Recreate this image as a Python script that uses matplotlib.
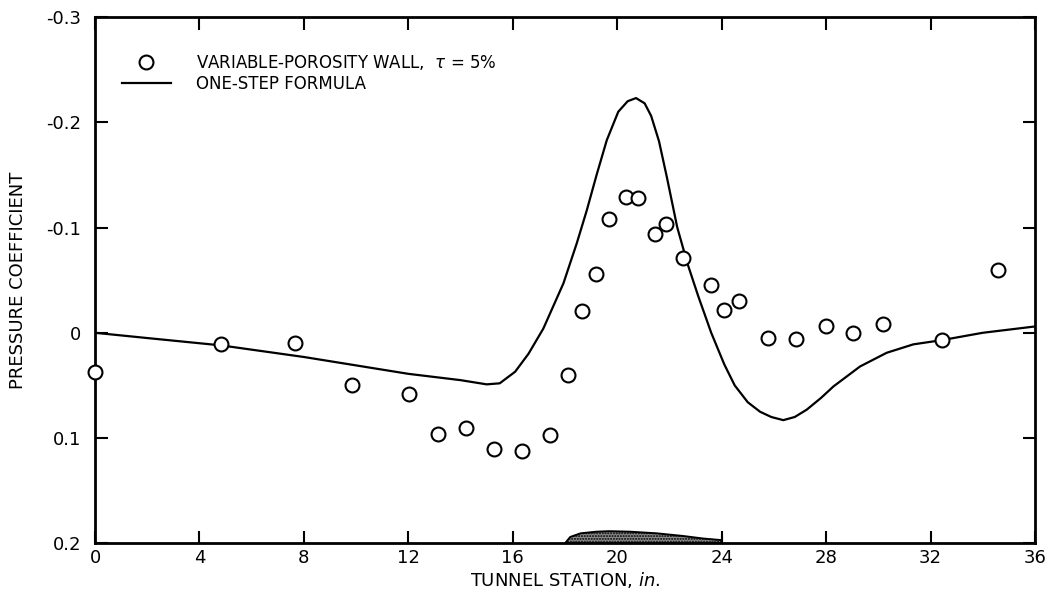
import matplotlib
matplotlib.use("Agg")
import matplotlib.pyplot as plt

# Measured data: variable-porosity wall, tau = 5%
station_in = [0.0, 4.84, 7.65, 9.84, 12.03, 13.12, 14.21, 15.27, 16.36, 17.43,
              18.12, 18.66, 19.2, 19.69, 20.33, 20.78, 21.43, 21.87, 22.52,
              23.59, 24.1, 24.67, 25.76, 26.86, 28.0, 29.04, 30.19, 32.43, 34.6]
cp_measured = [0.037, 0.011, 0.0095, 0.050, 0.058, 0.096, 0.090, 0.110, 0.112, 0.097,
               0.040, -0.021, -0.056, -0.108, -0.129, -0.128, -0.094, -0.103, -0.071,
               -0.045, -0.022, -0.030, 0.005, 0.0055, -0.006, 0.0, -0.008, 0.0065, -0.060]

# One-step formula curve
formula_x = [0.0, 2.0, 4.84, 8.0, 10.0, 12.0, 14.0, 15.0, 15.5, 16.09, 16.6, 17.17,
             17.94, 18.45, 18.83, 19.21, 19.6, 20.04, 20.4, 20.72, 21.05, 21.3,
             21.6, 21.9, 22.3, 22.7, 23.1, 23.6, 24.1, 24.5, 25.0, 25.47,
             25.9, 26.36, 26.8, 27.26, 27.8, 28.28, 29.3, 30.32, 31.34, 32.43,
             34.0, 36.0]
formula_cp = [0.0, 0.005, 0.012, 0.023, 0.031, 0.039, 0.045, 0.049, 0.048, 0.037, 0.020,
              -0.004, -0.047, -0.085, -0.116, -0.150, -0.183, -0.210, -0.220, -0.223,
              -0.218, -0.206, -0.182, -0.148, -0.100, -0.065, -0.035, 0.0,
              0.030, 0.050, 0.066, 0.075, 0.080, 0.083, 0.080, 0.073, 0.062, 0.051,
              0.032, 0.019, 0.011, 0.007, 0.0, -0.006]

# Model (airfoil) outline at the tunnel floor
airfoil_x = [18.0, 18.2, 18.6, 19.2, 19.7, 20.5, 21.5, 22.5, 23.3, 24.0]
airfoil_top = [0.2, 0.194, 0.1905, 0.189, 0.1885, 0.189, 0.1905, 0.193, 0.1955, 0.197]

y_ticks = [-0.3, -0.2, -0.1, 0.0, 0.1, 0.2]
y_ticklabels = ["-0.3", "-0.2", "-0.1", "0", "0.1", "0.2"]
x_ticks = [0, 4, 8, 12, 16, 20, 24, 28, 32, 36]

plt.rcParams['font.family'] = ['DejaVu Sans']

fig = plt.figure(figsize=(10.5, 5.95), dpi=100)
ax = fig.add_axes([0.0905, 0.0869, 0.8952, 0.8845])

ax.plot(formula_x, formula_cp, color='black', lw=1.6, zorder=2,
        label='ONE-STEP FORMULA')
ax.plot(station_in, cp_measured, linestyle='none', marker='o', markersize=10,
        markerfacecolor='white', markeredgecolor='black', markeredgewidth=1.5,
        zorder=3, clip_on=False, label='VARIABLE-POROSITY WALL,  $\\tau$ = 5%')

ax.fill_between(airfoil_x, airfoil_top, 0.2, facecolor='#8c8c8c',
                edgecolor='black', hatch='......', lw=1.4, zorder=2)
ax.plot([24, 24], [0.2, 0.194], color='black', lw=1.5)

ax.set_xlim(0, 36)
ax.set_ylim(0.2, -0.3)
ax.set_xticks(x_ticks)
ax.set_xticklabels([str(v) for v in x_ticks], fontsize=13)
ax.set_yticks(y_ticks)
ax.set_yticklabels(y_ticklabels, fontsize=13)
ax.tick_params(direction='in', length=9, width=1.5, top=True, right=True)
ax.tick_params(axis='y', pad=10)
ax.tick_params(axis='x', pad=4)

for s in ax.spines.values():
    s.set_linewidth(2)

ax.set_xlabel('TUNNEL STATION, $\\it{in.}$', fontsize=13, labelpad=2)
ax.set_ylabel('PRESSURE COEFFICIENT', fontsize=13, labelpad=14)

h, l = ax.get_legend_handles_labels()
ax.legend([h[1], h[0]], [l[1], l[0]], loc='upper left', frameon=False,
          bbox_to_anchor=(0.013, 0.96), fontsize=12, handlelength=2.9,
          handletextpad=1.5, labelspacing=0.15)

fig.savefig('out.png', dpi=100)
